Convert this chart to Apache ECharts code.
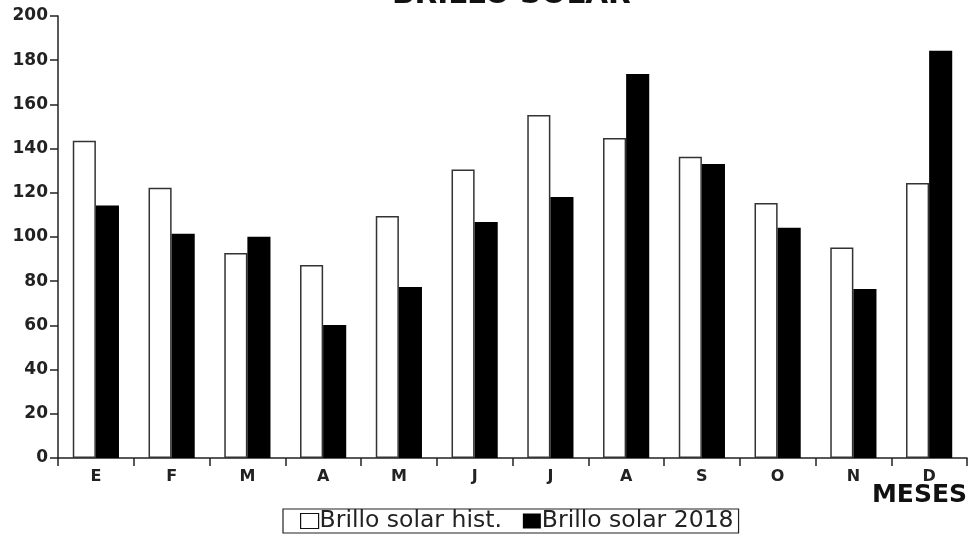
<!DOCTYPE html>
<html>
<head>
<meta charset="utf-8">
<script src="https://cdn.jsdelivr.net/npm/echarts@6/dist/echarts.min.js"></script>
<style>html,body{margin:0;padding:0;background:#fff}#c{width:972px;height:543px}</style>
</head>
<body>
<div id="c"></div>
<script>
const categories = ['E','F','M','A','M','J','J','A','S','O','N','D'];
const histValues = [143.5, 122.3, 92.8, 87.3, 109.5, 130.5, 155.2, 144.8, 136.3, 115.4, 95.3, 124.4];
const values2018 = [114.2, 101.5, 100.1, 60.2, 77.4, 106.8, 118.1, 173.8, 133.0, 104.2, 76.5, 184.3];
const seriesNames = ['Brillo solar hist.', 'Brillo solar 2018'];
const titleText = 'BRILLO SOLAR';
const xName = 'MESES';

const chart = echarts.init(document.getElementById('c'));
chart.setOption({
  backgroundColor: '#fff',
  animation: false,
  legend: {
    left: 283, top: 509,
    itemWidth: 18, itemHeight: 15, itemGap: 21,
    borderColor: '#222', borderWidth: 1.2, padding: [0, 5, 0, 17],
    textStyle: {fontFamily: 'DejaVu Sans', fontSize: 23.5, lineHeight: 24, color: '#222', padding: [0,0,0,-4]},
    data: [
      {name: seriesNames[0], icon: 'rect', itemStyle: {color: '#fff', borderColor: '#111', borderWidth: 1.2}},
      {name: seriesNames[1], icon: 'rect', itemStyle: {color: '#000'}}
    ]
  },
  grid: {left: 58, right: 5, top: 16, bottom: 85, containLabel: false},
  xAxis: {
    type: 'category', data: categories, boundaryGap: true,
    axisLine: {lineStyle: {color: '#222', width: 1.5}},
    axisTick: {show: true, interval: 0, length: 8, lineStyle: {color: '#222', width: 1.5}},
    axisLabel: {fontFamily: 'DejaVu Sans', fontWeight: 'bold', fontSize: 16, color: '#222', margin: 11},
    splitLine: {show: false}
  },
  yAxis: {
    type: 'value', min: 0, max: 200, interval: 20,
    axisLine: {show: true, lineStyle: {color: '#222', width: 1.5}},
    axisTick: {show: true, length: 8, lineStyle: {color: '#222', width: 1.5}},
    axisLabel: {fontFamily: 'DejaVu Sans', fontWeight: 'bold', fontSize: 17, color: '#222', margin: 10},
    splitLine: {show: false}
  },
  graphic: [{
    type: 'text', left: 392, top: -20,
    style: {text: titleText, fontFamily: 'DejaVu Sans', fontWeight: 'bold', fontSize: 29.5, fill: '#111'}
  }, {
    type: 'text', right: 5, top: 483,
    style: {text: xName, fontFamily: 'DejaVu Sans', fontWeight: 'bold', fontSize: 25, fill: '#111'}
  }],
  series: [
    {name: seriesNames[0], type: 'bar', data: histValues, barGap: '0%', barCategoryGap: '39%',
     itemStyle: {color: '#fff', borderColor: '#333', borderWidth: 1.5}},
    {name: seriesNames[1], type: 'bar', data: values2018,
     itemStyle: {color: '#000'}}
  ]
});
</script>
</body>
</html>
